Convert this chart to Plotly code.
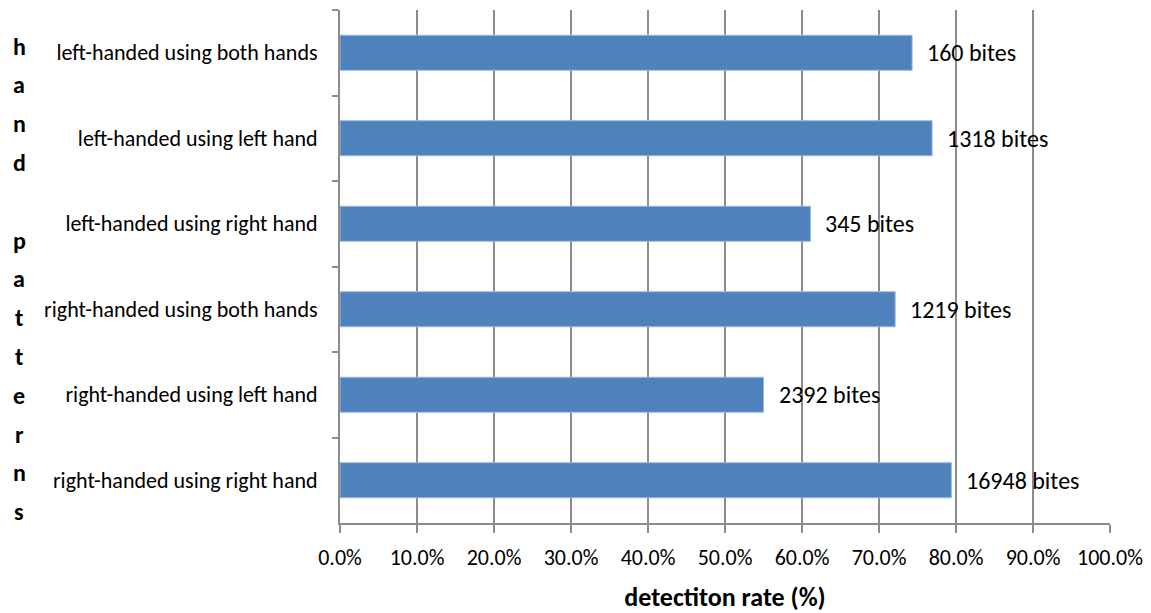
import plotly.graph_objects as go

categories = [
    "left-handed using both hands",
    "left-handed using left hand",
    "left-handed using right hand",
    "right-handed using both hands",
    "right-handed using left hand",
    "right-handed using right hand",
]
detection_rate = [74.3, 76.9, 61.1, 72.1, 55.0, 79.4]
bite_counts = [160, 1318, 345, 1219, 2392, 16948]
x_tick_values = [0, 10, 20, 30, 40, 50, 60, 70, 80, 90, 100]
x_tick_labels = [f"{v:.1f}%" for v in x_tick_values]
y_title = "hand patterns"
x_title = "detectiton rate (%)"

FONT = "Carlito, Calibri, Lato, sans-serif"
# the page body adds an 8px margin, so the figure is a bit smaller
W, H = 1143, 605
ML, MR, MT, MB = 332, 41, 2, 90
PW, PH = W - ML - MR, H - MT - MB

fig = go.Figure()
fig.add_trace(go.Bar(
    x=detection_rate,
    y=categories,
    orientation="h",
    marker=dict(color="#4F81BD", line=dict(color="#9DB9DD", width=1)),
    hoverinfo="x+y",
))

annotations = []
for cat, val, n in zip(categories, detection_rate, bite_counts):
    annotations.append(dict(
        x=val, y=cat, xref="x", yref="y",
        text=f"{n} bites", showarrow=False,
        xanchor="left", yanchor="middle", xshift=13,
        font=dict(family=FONT, size=24, color="#000000"),
    ))

# vertical stacked y-axis title letters
line_gap = 38.8
first_y = 38
for i, ch in enumerate(y_title):
    if ch == " ":
        continue
    fy = first_y + i * line_gap
    annotations.append(dict(
        x=(11 - ML) / PW, y=1 - (fy - MT) / PH,
        xref="paper", yref="paper",
        text=f"<b>{ch}</b>", showarrow=False,
        xanchor="center", yanchor="middle",
        font=dict(family=FONT, size=24, color="#000000"),
    ))

fig.update_layout(
    width=W, height=H,
    margin=dict(l=ML, r=MR, t=MT, b=MB, pad=0),
    paper_bgcolor="white", plot_bgcolor="white",
    showlegend=False,
    bargap=0.59,
    font=dict(family=FONT, size=22, color="#000000"),
    annotations=annotations,
    xaxis=dict(
        range=[0, 100],
        tickvals=x_tick_values, ticktext=x_tick_labels,
        showgrid=True, gridcolor="#8C8C8C", gridwidth=2,
        showline=True, linecolor="#8C8C8C", linewidth=2,
        ticks="outside", ticklen=8, tickwidth=2, tickcolor="#8C8C8C",
        zeroline=False,
        ticklabelstandoff=6,
        tickfont=dict(family=FONT, size=22, color="#000000"),
        title=dict(text=f"<b>{x_title}</b>", standoff=17,
                   font=dict(family=FONT, size=26, color="#000000")),
    ),
    yaxis=dict(
        type="category", categoryorder="array", categoryarray=categories,
        autorange="reversed",
        showgrid=False,
        showline=True, linecolor="#8C8C8C", linewidth=2,
        ticks="outside", ticklen=6, tickwidth=2, tickcolor="#8C8C8C",
        tickson="boundaries",
        ticklabelstandoff=16,
        tickfont=dict(family=FONT, size=22, color="#000000"),
    ),
)

fig.write_html("out.html")
